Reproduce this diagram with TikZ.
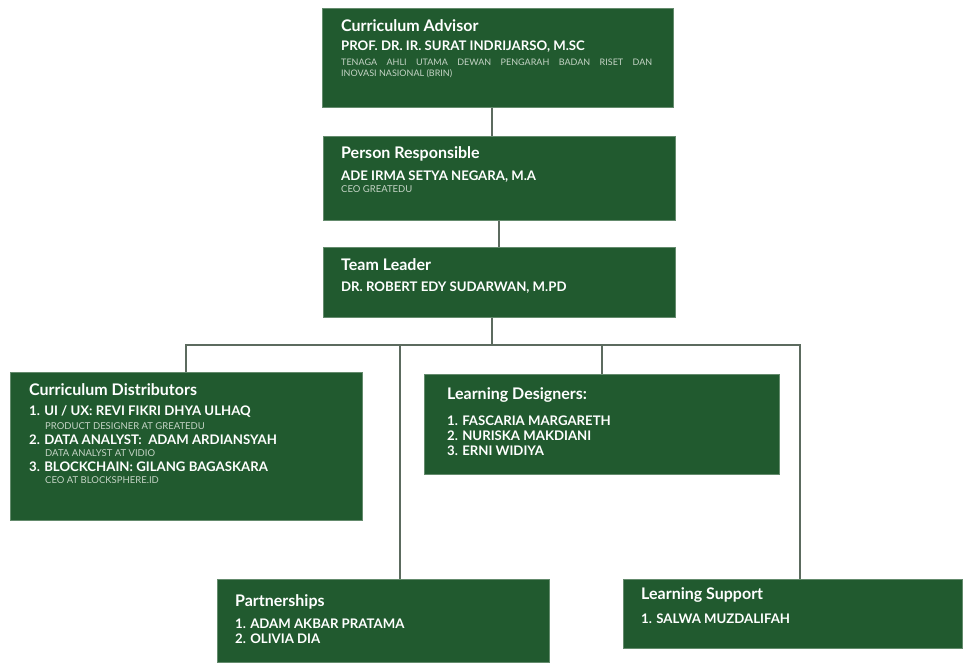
\documentclass[tikz,border=0pt]{standalone}
\usepackage{fontspec}
\setmainfont{Lato}
\definecolor{boxg}{HTML}{215A2F}
\definecolor{lineg}{HTML}{5C6B5F}
\definecolor{subg}{HTML}{C5D4C6}
\begin{document}
\begin{tikzpicture}[x=1pt,y=-1pt,
  box/.style={fill=boxg, draw=boxg!70!white, line width=0.5pt, inner sep=0, anchor=north west},
  ttl/.style={anchor=west, text=white, font=\bfseries\fontsize{16}{18}\selectfont, inner sep=0},
  nm/.style={anchor=west, text=white, font=\bfseries\fontsize{13.2}{15}\selectfont, inner sep=0},
  sub/.style={anchor=west, text=subg, font=\fontsize{9.5}{11}\selectfont, inner sep=0},
  conn/.style={draw=lineg, line width=1.3pt}]
\useasboundingbox (0,0) rectangle (964,662);
\fill[white] (0,0) rectangle (964,662);

% boxes
\node[box, minimum width=351pt, minimum height=99pt] (b1) at (322,8) {};
\node[box, minimum width=352pt, minimum height=84pt] (b2) at (323,136) {};
\node[box, minimum width=352pt, minimum height=70pt] (b3) at (323,247) {};
\node[box, minimum width=352pt, minimum height=148pt] (b4) at (10,372) {};
\node[box, minimum width=355pt, minimum height=100pt] (b5) at (424,374) {};
\node[box, minimum width=332pt, minimum height=83pt] (b6) at (217,579) {};
\node[box, minimum width=339pt, minimum height=69pt] (b7) at (623,579) {};

% connector coordinates
\coordinate (c12) at (492,0);
\coordinate (c23) at (499,0);
\coordinate (c3) at (492,0);
\coordinate (bus) at (0,345);
\coordinate (d4) at (186,0);
\coordinate (d6) at (400,0);
\coordinate (d5) at (602,0);
\coordinate (d7) at (800,0);

\draw[conn] (b1.south -| c12) -- (b2.north -| c12);
\draw[conn] (b2.south -| c23) -- (b3.north -| c23);
\draw[conn] (b3.south -| c3) -- (bus -| c3);
\draw[conn] (b4.north -| d4) |- (bus -| d7) -- (b7.north -| d7);
\draw[conn] (bus -| d6) -- (b6.north -| d6);
\draw[conn] (bus -| d5) -- (b5.north -| d5);

% box 1
\node[ttl] (t1) at (341,26) {Curriculum Advisor};
\node[nm] (n1) at (341,47) {PROF. DR. IR. SURAT INDRIJARSO, M.SC};
\node[sub, anchor=north west, text width=311pt, align=justify, font=\fontsize{9}{11}\selectfont] (s1) at (341,58.5) {TENAGA AHLI UTAMA DEWAN PENGARAH BADAN RISET DAN\linebreak INOVASI NASIONAL (BRIN)};

% box 2
\node[ttl] (t2) at (341,154) {Person Responsible};
\node[nm] (n2) at (341,177) {ADE IRMA SETYA NEGARA, M.A};
\node[sub] (s2) at (341,189) {CEO GREATEDU};

% box 3
\node[ttl] (t3) at (341,265) {Team Leader};
\node[nm] (n3) at (341,288) {DR. ROBERT EDY SUDARWAN, M.PD};

% box 4
\node[ttl] (t4) at (29,389.5) {Curriculum Distributors};
\node[nm] (n41) at (29,412) {1. UI / UX: REVI FIKRI DHYA ULHAQ};
\node[sub] (s41) at (45,426) {PRODUCT DESIGNER AT GREATEDU};
\node[nm] (n42) at (29,440) {2. DATA ANALYST:\ \ ADAM ARDIANSYAH};
\node[sub] (s42) at (45,453) {DATA ANALYST AT VIDIO};
\node[nm] (n43) at (29,467) {3. BLOCKCHAIN: GILANG BAGASKARA};
\node[sub] (s43) at (45,480) {CEO AT BLOCKSPHERE.ID};

% box 5
\node[ttl] (t5) at (447,395.5) {Learning Designers:};
\node[nm] (n51) at (447,421) {1. FASCARIA MARGARETH};
\node[nm] (n52) at (447,436) {2. NURISKA MAKDIANI};
\node[nm] (n53) at (447,451) {3. ERNI WIDIYA};

% box 6
\node[ttl] (t6) at (235,601.5) {Partnerships};
\node[nm] (n61) at (235,624) {1. ADAM AKBAR PRATAMA};
\node[nm] (n62) at (235,639) {2. OLIVIA DIA};

% box 7
\node[ttl] (t7) at (641,595.5) {Learning Support};
\node[nm] (n71) at (641,619) {1. SALWA MUZDALIFAH};
\end{tikzpicture}
\end{document}
